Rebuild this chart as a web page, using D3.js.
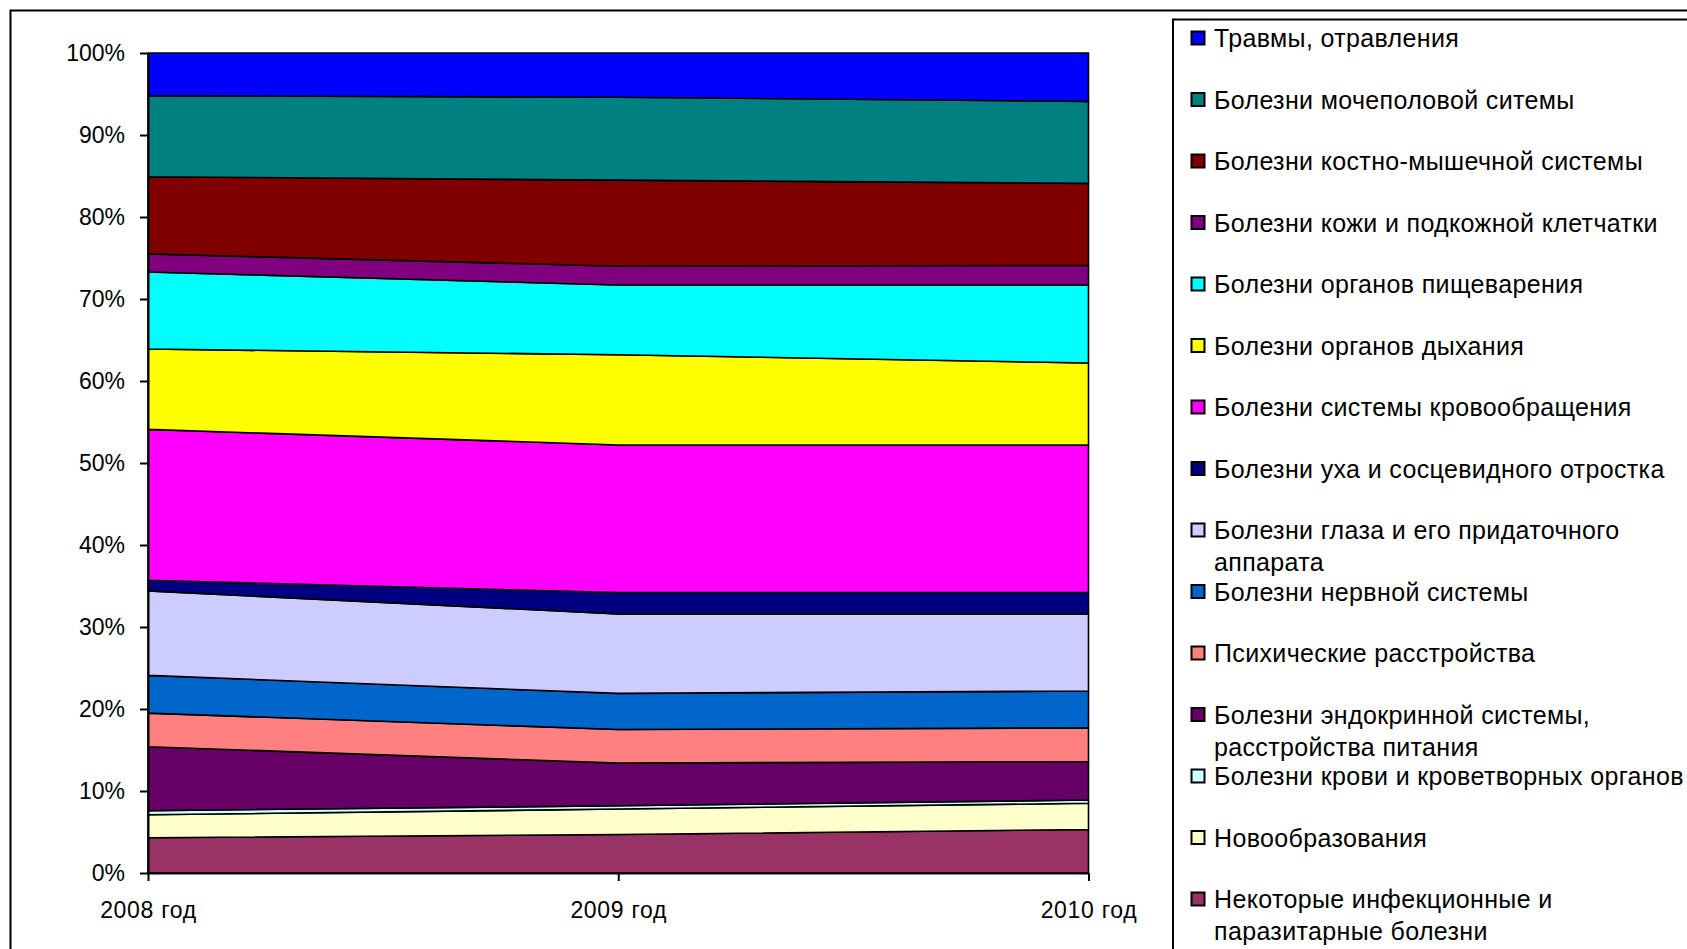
<!DOCTYPE html>
<html>
<head>
<meta charset="utf-8">
<script src="https://cdn.jsdelivr.net/npm/d3@7"></script>
<style>
  body { margin: 0; background: #fff; }
  svg { display: block; }
  text { font-family: "Liberation Sans", Arial, sans-serif; fill: #000; }
</style>
</head>
<body>
<svg id="chart" width="1687" height="949"></svg>
<script>
// Categories on the x axis
const years = ["2008 год", "2009 год", "2010 год"];

// Disease groups, from the bottom of the stack to the top
const seriesNames = [
  "Некоторые инфекционные и\nпаразитарные болезни",
  "Новообразования",
  "Болезни крови и кроветворных органов",
  "Болезни эндокринной системы,\nрасстройства питания",
  "Психические расстройства",
  "Болезни нервной системы",
  "Болезни глаза и его придаточного\nаппарата",
  "Болезни уха и сосцевидного отростка",
  "Болезни системы кровообращения",
  "Болезни органов дыхания",
  "Болезни органов пищеварения",
  "Болезни кожи и подкожной клетчатки",
  "Болезни костно-мышечной системы",
  "Болезни мочеполовой ситемы",
  "Травмы, отравления"
];

const seriesColors = [
  "#993366", "#FFFFCC", "#CCFFFF", "#660066", "#FF8080",
  "#0066CC", "#CCCCFF", "#000080", "#FF00FF", "#FFFF00",
  "#00FFFF", "#800080", "#800000", "#008080", "#0000FF"
];

// Share of each group per year, %, same order as seriesNames
const values2008 = [4.3, 2.8, 0.5, 7.8, 4.1, 4.6, 10.3, 1.3, 18.4, 9.8, 9.4, 2.2, 9.4, 9.9, 5.2];
const values2009 = [4.7, 3.1, 0.4, 5.2, 4.1, 4.4, 9.7, 2.6, 18.0, 11.0, 8.5, 2.3, 10.5, 10.1, 5.4];
const values2010 = [5.3, 3.2, 0.4, 4.7, 4.1, 4.5, 9.4, 2.6, 18.0, 10.0, 9.5, 2.4, 10.0, 10.0, 5.9];

const yTicks = [0, 0.1, 0.2, 0.3, 0.4, 0.5, 0.6, 0.7, 0.8, 0.9, 1.0];

// ---- table for d3.stack ----
const yearValues = [values2008, values2009, values2010];
const rows = years.map((yr, i) => {
  const row = { year: yr };
  seriesNames.forEach((n, j) => { row[n] = yearValues[i][j]; });
  return row;
});

const stack = d3.stack().keys(seriesNames).offset(d3.stackOffsetExpand);
const layers = stack(rows);

const svg = d3.select("#chart");

// outer frame
svg.append("rect")
  .attr("x", 10.5).attr("y", 10.5).attr("width", 1700).attr("height", 1000)
  .attr("fill", "none").attr("stroke", "#000").attr("stroke-width", 2);

const plot = { left: 148, right: 1088.5, top: 53, bottom: 873 };

const x = d3.scalePoint().domain(years).range([plot.left, plot.right]);
const y = d3.scaleLinear().domain([0, 1]).range([plot.bottom, plot.top]);

const color = d3.scaleOrdinal().domain(seriesNames).range(seriesColors);

const area = d3.area()
  .x(d => x(d.data.year))
  .y0(d => y(d[0]))
  .y1(d => y(d[1]));

svg.append("g").selectAll("path")
  .data(layers)
  .join("path")
  .attr("d", area)
  .attr("fill", d => color(d.key))
  .attr("stroke", "#000")
  .attr("stroke-width", 1.6)
  .attr("stroke-linejoin", "round");

// y axis
const yAxis = svg.append("g")
  .attr("transform", `translate(${plot.left},0)`)
  .call(d3.axisLeft(y).tickValues(yTicks).tickFormat(d3.format(".0%"))
    .tickSize(8).tickSizeOuter(0).tickPadding(15));
yAxis.selectAll("text").attr("font-size", 23).style("font-family", '"Liberation Sans", Arial, sans-serif');
yAxis.selectAll("line, path").attr("stroke", "#000").attr("stroke-width", 2);

// x axis
const xAxis = svg.append("g")
  .attr("transform", `translate(0,${plot.bottom})`)
  .call(d3.axisBottom(x).tickSize(8).tickSizeOuter(0).tickPadding(21));
xAxis.selectAll("text").attr("font-size", 23).attr("letter-spacing", 0.7)
  .style("font-family", '"Liberation Sans", Arial, sans-serif');
xAxis.selectAll("line, path").attr("stroke", "#000").attr("stroke-width", 2);

// legend frame
svg.append("rect")
  .attr("x", 1173).attr("y", 19.5).attr("width", 700).attr("height", 1000)
  .attr("fill", "#fff").attr("stroke", "#000").attr("stroke-width", 2);

const legendItems = seriesNames.slice().reverse();
const legend = svg.append("g");
const rowStep = 61.5, firstCenter = 38, lineGap = 32.3;

legendItems.forEach((name, i) => {
  const cy = firstCenter + rowStep * i;
  legend.append("rect")
    .attr("x", 1191.5).attr("y", cy - 6.5).attr("width", 13).attr("height", 13)
    .attr("fill", color(name)).attr("stroke", "#000").attr("stroke-width", 2);
  const t = legend.append("text")
    .attr("x", 1214).attr("y", cy + 9)
    .attr("font-size", 25)
    .attr("letter-spacing", 0.35);
  name.split("\n").forEach((line, k) => {
    t.append("tspan").attr("x", 1214).attr("dy", k === 0 ? 0 : lineGap).text(line);
  });
});
</script>
</body>
</html>
